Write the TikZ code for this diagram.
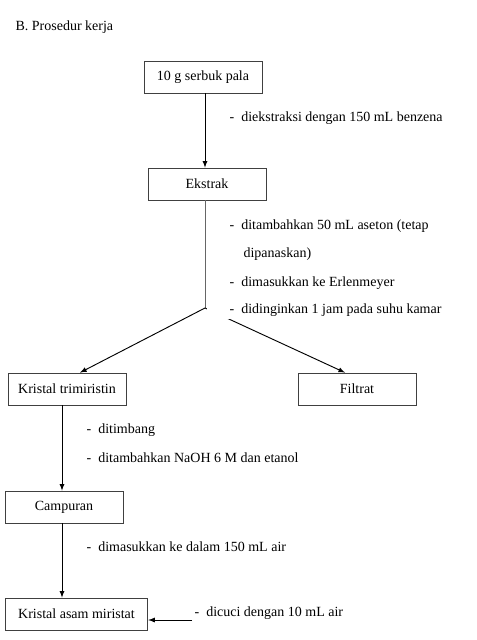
\documentclass[tikz,border=0pt]{standalone}
\usepackage{fontspec}
\setmainfont{Liberation Serif}
\usetikzlibrary{positioning}
\tikzset{box/.style={draw=black!75, line width=0.6pt, minimum height=24pt,
         inner sep=2pt, font=\fontsize{10.5}{12}\selectfont},
         note/.style={anchor=base west, inner sep=1pt, font=\fontsize{10.5}{12}\selectfont},
         flow/.style={line width=0.7pt, -latex}}

\begin{document}
\begin{tikzpicture}[x=0.75pt, y=-0.75pt]
  \useasboundingbox (0,0) rectangle (476,640);
  \node[note] (title) at (14,30) {B. Prosedur kerja};

  \node[box, minimum width=88.5pt] (pala) at (203,77) {10 g serbuk pala};
  \node[box, minimum width=88.5pt] (ekstrak) at (207,184) {Ekstrak};
  \node[box, minimum width=88.5pt] (trimiristin) at (67,389) {Kristal trimiristin};
  \node[box, minimum width=88.5pt] (filtrat) at (357,389) {Filtrat};
  \node[box, minimum width=88.5pt] (campuran) at (64,507) {Campuran};
  \node[box, minimum width=107pt] (miristat) at (76.5,614) {Kristal asam miristat};
  \coordinate (split) at (205,308);
  \coordinate (cuci) at (192,620);

  \draw[flow] (pala.south -| 205,0) -- (ekstrak.north -| 205,0);
  \draw[line width=0.7pt, black!60] (ekstrak.south -| split) -- (split);
  \draw[flow] (split) -- (trimiristin.north -| 80,0);
  \draw[flow] (split) -- (filtrat.north -| 345,0);
  \draw[flow] (trimiristin.south -| 62,0) -- (campuran.north -| 62,0);
  \draw[flow] (campuran.south -| 62,0) -- (miristat.north -| 62,0);
  \draw[flow] (cuci) -- (miristat.east |- cuci);

  % text frame of the last note hides the start of the right branch
  \fill[white] (206.5,300) rectangle (448,318.5);

  \node[note] (ekstraksi) at (228,121) {-\ \ diekstraksi dengan 150 mL benzena};
  \node[note] (aseton) at (228,229) {-\ \ ditambahkan 50 mL aseton (tetap};
  \node[note] (panas) at (242,257) {dipanaskan)};
  \node[note] (erlen) at (228,286) {-\ \ dimasukkan ke Erlenmeyer};
  \node[note] (dingin) at (228,313) {-\ \ didinginkan 1 jam pada suhu kamar};
  \node[note] (timbang) at (85,433) {-\ \ ditimbang};
  \node[note] (naoh) at (85,462) {-\ \ ditambahkan NaOH 6 M dan etanol};
  \node[note] (air) at (85,551) {-\ \ dimasukkan ke dalam 150 mL air};
  \node[note] (dicuci) at (193,616) {-\ \ dicuci dengan 10 mL air};
\end{tikzpicture}
\end{document}
